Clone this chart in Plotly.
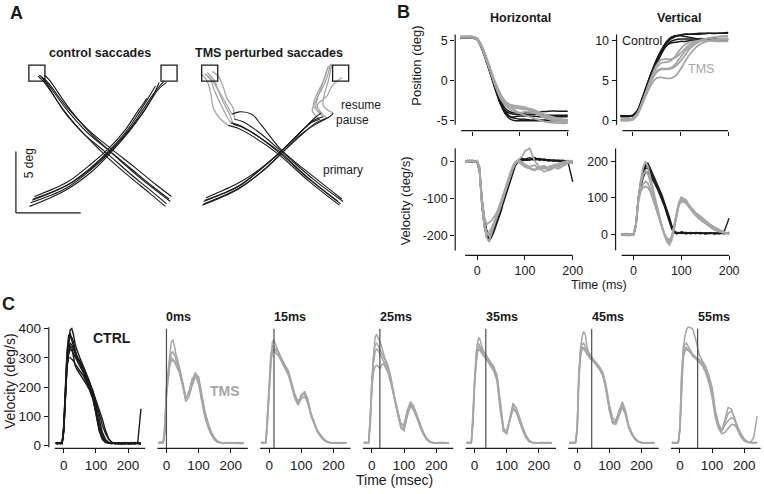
import plotly.graph_objects as go

W, H = 764, 494
INK = '#1a1a1a'
GREY = '#a6a6a6'
STIM_INK = '#4d4d4d'
FONT = 'Liberation Sans, Arial, Helvetica, sans-serif'

# ================= DATA =================
# ---- Panel A: 2-D eye trajectories (deg) ----
A_CTRL_RL_X = [[5.3, 4.0, 2.3, 0.5, -1.4, -3.0, -4.7, -5.2],
               [5.5, 4.2, 2.5, 0.6, -1.3, -3.0, -4.6, -5.0],
               [5.1, 3.8, 2.1, 0.3, -1.6, -3.2, -4.8, -5.3],
               [5.0, 3.7, 2.0, 0.2, -1.5, -3.1, -4.5, -4.9],
               [5.4, 4.1, 2.4, 0.6, -1.2, -2.8, -4.4, -4.8]]
A_CTRL_RL_Y = [[0.4, 1.4, 2.8, 4.3, 5.9, 7.7, 10.0, 10.5],
               [0.6, 1.6, 3.0, 4.5, 6.1, 7.9, 10.0, 10.3],
               [0.0, 1.1, 2.5, 4.1, 5.7, 7.6, 9.9, 10.4],
               [-0.2, 0.9, 2.3, 3.9, 5.6, 7.4, 9.6, 10.2],
               [0.2, 1.2, 2.6, 4.2, 5.9, 7.8, 10.1, 10.5]]
A_CTRL_LR_X = [[-5.8, -3.0, -1.1, 0.5, 1.9, 2.9, 3.6, 4.2],
               [-6.0, -3.1, -1.0, 0.6, 2.0, 3.1, 3.9, 4.5],
               [-5.6, -2.9, -1.2, 0.4, 1.8, 2.8, 3.3, 3.5],
               [-5.7, -2.8, -0.9, 0.7, 2.1, 3.2, 4.2, 4.9],
               [-5.9, -3.0, -1.0, 0.6, 2.0, 3.3, 4.4, 5.1]]
A_CTRL_LR_Y = [[0.3, 1.5, 2.9, 4.4, 6.0, 7.5, 8.6, 9.6],
               [-0.2, 1.1, 2.6, 4.2, 5.8, 7.3, 8.6, 9.9],
               [0.6, 1.8, 3.1, 4.5, 6.1, 7.6, 8.3, 8.6],
               [0.4, 1.6, 3.0, 4.5, 6.1, 7.7, 9.2, 10.0],
               [0.1, 1.3, 2.8, 4.3, 5.9, 7.6, 9.3, 9.9]]
# TMS: primary (black) and resumed (grey) parts
A_TMS_RL_PRIM_X = [[5.0, 2.6, 0.2, -1.8, -3.0, -3.7],
                   [5.2, 2.8, 0.3, -1.6, -2.9, -3.5],
                   [5.3, 2.9, 0.4, -1.2, -2.0, -3.0, -3.6],
                   [5.1, 2.7, 0.1, -1.9, -3.2, -3.9],
                   [5.4, 3.0, 0.5, -1.5, -2.7, -3.4]]
A_TMS_RL_PRIM_Y = [[0.2, 2.1, 4.3, 5.7, 6.4, 6.6],
                   [0.0, 1.9, 4.1, 5.6, 6.3, 6.5],
                   [0.4, 2.3, 4.4, 6.4, 7.3, 7.5, 7.3],
                   [-0.1, 1.8, 4.1, 5.5, 6.2, 6.4],
                   [0.2, 2.0, 4.2, 5.9, 6.7, 6.9]]
A_TMS_RL_RES_X = [[-3.7, -4.0, -4.5, -5.0, -5.4, -5.8],
                  [-3.5, -3.8, -4.3, -4.7, -5.0, -5.6],
                  [-3.6, -4.1, -4.9, -5.3, -5.8],
                  [-3.9, -4.6, -5.1, -5.3, -5.6, -6.1],
                  [-3.4, -3.5, -4.0, -4.3, -4.7, -5.2]]
A_TMS_RL_RES_Y = [[6.6, 7.1, 8.1, 9.2, 10.2, 10.6],
                  [6.5, 7.3, 8.3, 9.2, 10.0, 10.7],
                  [7.3, 8.2, 9.6, 10.2, 10.6],
                  [6.4, 7.0, 7.8, 8.9, 10.0, 10.6],
                  [6.9, 7.8, 8.6, 9.5, 10.4, 10.8]]
A_TMS_LR_PRIM_X = [[-5.9, -3.0, -1.2, 0.4, 1.8, 3.0, 3.8],
                   [-6.0, -3.1, -1.1, 0.5, 2.0, 3.2, 4.1],
                   [-5.7, -2.9, -1.0, 0.6, 2.0, 3.1, 3.6],
                   [-5.8, -3.1, -1.3, 0.3, 1.7, 2.8, 3.5],
                   [-5.9, -3.0, -1.1, 0.5, 1.9, 3.2, 4.3, 4.6]]
A_TMS_LR_PRIM_Y = [[0.2, 1.5, 2.9, 4.3, 5.7, 6.8, 7.1],
                   [-0.1, 1.2, 2.7, 4.2, 5.6, 6.6, 7.0],
                   [0.5, 1.8, 3.1, 4.5, 5.9, 7.0, 7.4],
                   [0.3, 1.4, 2.8, 4.2, 5.6, 6.6, 6.9],
                   [0.0, 1.3, 2.7, 4.2, 5.6, 6.5, 7.1, 7.4]]
A_TMS_LR_RES_X = [[3.8, 3.2, 3.4, 3.9, 4.3, 4.4],
                  [4.1, 3.3, 4.1, 4.5, 5.3],
                  [3.6, 3.0, 3.3, 3.8, 4.1, 4.3],
                  [3.5, 2.9, 3.2, 3.6, 4.0, 4.2],
                  [4.6, 3.8, 3.9, 4.2, 4.4, 4.5]]
A_TMS_LR_RES_Y = [[7.1, 7.8, 8.8, 9.8, 11.0, 11.4],
                  [7.0, 8.0, 8.8, 9.6, 10.3],
                  [7.4, 8.0, 9.0, 10.0, 10.9, 11.3],
                  [6.9, 7.6, 8.4, 9.4, 10.6, 11.2],
                  [7.4, 8.0, 9.0, 10.0, 11.0, 11.4]]
A_CTRL_TARGET_X = [-5.4, 5.3]
A_TMS_TARGET_X = [-5.4, 5.2]
A_TARGET_Y = [10.65, 10.65]

# ---- Panel B: position (deg) and velocity (deg/s) vs time (ms) ----
T_POS = [-25, -10, 0, 10, 20, 30, 40, 50, 60, 70, 80, 90, 100, 110, 120, 140, 160, 180, 200]
HPOS_CTRL = [
    [5.4, 5.4, 5.4, 5.2, 4.2, 2.6, 0.8, -1.1, -2.8, -3.9, -4.5, -4.7, -4.8, -4.8, -4.9, -4.9, -4.9, -4.9, -4.9],
    [5.4, 5.4, 5.4, 5.1, 4.0, 2.3, 0.5, -1.4, -3.0, -3.8, -4.1, -4.2, -4.2, -4.2, -4.2, -4.2, -4.3, -4.3, -4.3],
    [5.5, 5.5, 5.5, 5.3, 4.3, 2.7, 0.9, -0.9, -2.5, -3.5, -3.9, -4.0, -4.0, -4.0, -3.9, -3.9, -3.8, -3.8, -3.8],
    [5.4, 5.4, 5.4, 5.2, 4.1, 2.5, 0.6, -1.3, -3.0, -4.1, -4.5, -4.5, -4.4, -4.4, -4.4, -4.5, -4.5, -4.5, -4.5],
    [5.3, 5.3, 5.3, 5.1, 4.0, 2.4, 0.6, -1.2, -2.9, -4.2, -4.8, -5.0, -5.0, -5.0, -5.0, -5.0, -5.0, -5.0, -5.0]]
HPOS_TMS = [
    [5.4, 5.4, 5.4, 5.2, 4.3, 2.8, 1.1, -0.6, -1.9, -2.7, -3.1, -3.3, -3.4, -3.5, -3.7, -4.3, -4.8, -5.1, -5.2],
    [5.4, 5.4, 5.4, 5.2, 4.2, 2.6, 0.9, -0.8, -2.1, -2.9, -3.3, -3.4, -3.5, -3.6, -3.5, -3.9, -4.4, -4.7, -4.9],
    [5.5, 5.5, 5.5, 5.3, 4.4, 2.9, 1.2, -0.4, -1.7, -2.6, -3.0, -3.1, -3.2, -3.3, -3.5, -4.1, -4.6, -4.9, -5.0],
    [5.4, 5.4, 5.4, 5.2, 4.3, 2.7, 1.0, -0.7, -2.0, -2.8, -3.3, -3.7, -4.1, -4.3, -4.5, -4.9, -5.2, -5.3, -5.3],
    [5.4, 5.4, 5.4, 5.1, 4.1, 2.5, 0.8, -0.9, -2.3, -3.1, -3.6, -3.9, -4.0, -3.9, -3.9, -4.2, -4.6, -4.9, -5.1]]
VPOS_CTRL = [
    [0.6, 0.6, 0.6, 1.2, 2.6, 4.2, 5.8, 7.2, 8.5, 9.6, 10.3, 10.6, 10.7, 10.8, 10.8, 10.8, 10.9, 10.9, 10.9],
    [0.6, 0.6, 0.6, 1.1, 2.4, 4.0, 5.6, 7.0, 8.3, 9.3, 9.9, 10.1, 10.2, 10.2, 10.2, 10.2, 10.2, 10.2, 10.2],
    [0.5, 0.5, 0.6, 1.2, 2.7, 4.4, 6.1, 7.6, 8.8, 9.8, 10.4, 10.6, 10.6, 10.5, 10.4, 10.2, 10.1, 10.1, 10.1],
    [0.6, 0.6, 0.6, 1.1, 2.5, 4.1, 5.7, 7.2, 8.4, 9.3, 9.7, 9.8, 9.9, 9.9, 10.0, 10.0, 10.1, 10.1, 10.1],
    [0.6, 0.6, 0.7, 1.3, 2.8, 4.5, 6.1, 7.5, 8.7, 9.6, 10.2, 10.5, 10.7, 10.8, 10.8, 10.9, 10.9, 10.9, 11.0]]
VPOS_TMS = [
    [0.2, 0.2, 0.3, 0.9, 2.3, 3.9, 5.5, 6.9, 7.6, 7.7, 7.7, 7.9, 8.4, 9.0, 9.5, 10.0, 10.3, 10.5, 10.6],
    [0.1, 0.1, 0.2, 0.8, 2.1, 3.6, 5.0, 6.0, 6.4, 6.4, 6.5, 6.8, 7.4, 8.2, 9.0, 9.9, 10.3, 10.5, 10.6],
    [0.0, 0.0, 0.1, 0.7, 2.0, 3.4, 4.6, 5.3, 5.4, 5.3, 5.3, 5.6, 6.4, 7.4, 8.3, 9.5, 10.0, 10.2, 10.3],
    [0.2, 0.2, 0.3, 0.9, 2.2, 3.7, 5.2, 6.2, 6.5, 6.5, 6.6, 7.1, 7.9, 8.7, 9.3, 9.9, 10.0, 10.1, 10.1],
    [0.1, 0.1, 0.2, 0.8, 2.2, 3.8, 5.4, 6.6, 7.2, 7.3, 7.5, 8.1, 8.9, 9.5, 9.8, 10.0, 10.0, 9.9, 9.9]]

T_VEL = [-25, -20, -15, -10, -5, 0, 5, 10, 15, 20, 25, 30, 35, 40, 45, 50, 55, 60, 65, 70,
         75, 80, 85, 90, 95, 100, 110, 120, 130, 140, 150, 160, 170, 180, 190, 200]
HVEL_CTRL = [
    [0, 3, -2, 2, -1, 0, -20, -120, -175, -205, -215, -205, -190, -172, -155, -135, -112, -92, -70, -48,
     -28, -12, -3, 2, 5, 3, 4, 8, 3, 6, 2, 4, 1, 3, -2, -55],
    [2, -1, 3, 0, 2, -3, -30, -110, -160, -195, -210, -200, -185, -165, -150, -128, -105, -85, -62, -40,
     -22, -8, 0, 4, 2, 6, 10, 5, 8, 2, 5, 0, 3, 1, -5, -2],
    [-2, 1, 0, -3, 1, 2, -15, -95, -150, -185, -200, -195, -180, -160, -140, -120, -100, -80, -60, -38,
     -20, -6, 3, 6, 8, 5, 3, 10, 4, 6, 3, 2, 0, -2, 2, -5],
    [1, -2, 2, 1, -2, 0, -25, -115, -170, -200, -212, -200, -183, -168, -148, -125, -102, -82, -58, -36,
     -18, -5, 2, 5, 4, 2, 6, 3, 7, 4, 1, 3, 2, 0, 1, -3]]
HVEL_TMS = [
    [2, -1, 1, 0, -2, 1, -20, -110, -165, -190, -200, -185, -170, -155, -138, -118, -96, -75, -55, -35,
     -18, -5, 2, 8, 15, 28, 35, 2, -15, -12, -20, -10, -15, -5, 0, 2],
    [-1, 2, 0, 3, 0, -2, -25, -120, -170, -200, -190, -180, -165, -148, -130, -110, -90, -70, -50, -30,
     -14, -3, 0, -5, -10, -15, -20, -25, -18, -28, -22, -15, -20, -12, -5, 0],
    [0, -2, 2, -1, 1, 0, -15, -100, -150, -170, -165, -160, -150, -140, -125, -108, -88, -68, -47, -28,
     -12, -2, 3, 2, -4, -8, -15, -10, -22, -15, -25, -18, -10, -8, -3, -1],
    [1, 0, -1, 2, -1, 1, -22, -115, -175, -205, -215, -195, -175, -158, -140, -120, -98, -78, -56, -36,
     -18, -6, 0, -3, -8, -12, -18, -22, -15, -20, -14, -10, -6, -3, 2, 0]]
VVEL_CTRL = [
    [0, 3, -2, 2, -1, 0, 30, 100, 145, 175, 192, 195, 182, 168, 152, 137, 122, 106, 88, 70,
     48, 25, 10, 5, 3, 8, 5, 2, 6, 4, 3, 5, 2, 3, 10, 45],
    [2, -1, 1, -3, 2, 1, 25, 95, 135, 165, 182, 180, 168, 155, 142, 128, 112, 96, 80, 60,
     40, 20, 8, 3, 6, 4, 2, 5, 3, 6, 2, 3, 5, 2, 4, 6],
    [-2, 2, 0, 1, -2, 2, 28, 100, 140, 170, 188, 186, 175, 160, 145, 130, 115, 98, 82, 63,
     42, 22, 9, 6, 4, 5, 3, 6, 4, 2, 5, 3, 2, 4, 3, 5],
    [1, -2, 3, 0, 1, -1, 22, 90, 128, 155, 170, 170, 160, 150, 138, 125, 110, 94, 76, 55,
     35, 15, 6, 2, 5, 3, 6, 4, 3, 5, 2, 4, 3, 5, 2, 6]]
VVEL_TMS = [
    [0, 2, -2, 1, -1, 2, 30, 100, 148, 182, 200, 185, 160, 130, 100, 72, 45, 20, 0, -15,
     -22, -10, 20, 55, 85, 100, 90, 70, 55, 45, 35, 25, 15, 10, 5, 3],
    [2, -1, 1, -2, 2, 0, 25, 92, 122, 138, 145, 140, 125, 105, 85, 62, 40, 18, 0, -12,
     -18, -5, 25, 60, 85, 95, 85, 68, 52, 40, 30, 22, 12, 8, 4, 2],
    [-1, 1, -2, 2, 0, 1, 22, 88, 118, 128, 132, 128, 118, 100, 82, 60, 38, 16, -2, -20,
     -28, -15, 15, 50, 80, 90, 88, 75, 60, 50, 38, 28, 20, 12, 6, 4],
    [1, 0, 2, -1, 1, -2, 28, 98, 138, 162, 175, 165, 145, 118, 92, 66, 42, 20, 2, -10,
     -15, -5, 22, 58, 88, 102, 95, 72, 58, 42, 32, 22, 14, 8, 4, 1]]

# ---- Panel C: velocity (deg/s) vs time (msec), control and TMS at several delays ----
T_C = [-25, -20, -10, -5, 0, 5, 10, 15, 20, 25, 30, 35, 40, 50, 60, 70, 80, 90, 100, 110,
       120, 130, 140, 150, 160, 170, 180, 190, 200, 210, 220, 230, 240]
C_CTRL = [
    [8, 10, 5, 12, 60, 210, 310, 360, 395, 400, 380, 350, 330, 300, 275, 245, 220, 180, 120, 60,
     25, 12, 8, 10, 6, 8, 5, 9, 6, 8, 5, 10, 8],
    [5, 8, 10, 6, 50, 190, 280, 330, 350, 345, 330, 310, 300, 280, 260, 240, 215, 190, 150, 105,
     70, 40, 20, 10, 8, 6, 9, 5, 8, 6, 10, 7, 6],
    [10, 6, 8, 10, 55, 180, 265, 310, 330, 325, 315, 300, 290, 270, 250, 225, 200, 175, 140, 90,
     45, 20, 10, 8, 6, 9, 7, 6, 8, 10, 6, 8, 9],
    [6, 9, 7, 8, 45, 170, 270, 320, 340, 335, 300, 275, 262, 245, 230, 210, 190, 160, 110, 55,
     25, 12, 8, 6, 9, 5, 7, 10, 6, 8, 9, 6, 5],
    [8, 5, 9, 7, 65, 205, 300, 345, 375, 370, 355, 330, 310, 285, 255, 230, 205, 185, 155, 125,
     90, 50, 22, 10, 7, 8, 6, 9, 6, 5, 8, 10, 125],
    [7, 10, 6, 9, 50, 185, 275, 300, 300, 295, 290, 280, 270, 255, 240, 220, 195, 165, 125, 75,
     35, 15, 9, 7, 8, 6, 9, 7, 5, 9, 6, 8, 7],
    [9, 7, 10, 6, 70, 220, 320, 375, 385, 360, 340, 320, 305, 290, 268, 240, 210, 170, 110, 50,
     20, 10, 8, 9, 6, 8, 5, 7, 9, 6, 8, 7, 6]]
STIM_DELAYS = [0, 15, 25, 35, 45, 55]
STIM_LABELS = ['0ms', '15ms', '25ms', '35ms', '45ms', '55ms']
C_TMS = {
    0: [[10, 8, 12, 60, 200, 260, 320, 355, 360, 340, 310, 290, 270, 220, 165, 175, 215, 245, 235, 175,
         115, 75, 45, 25, 14, 10, 8, 9, 7, 10, 8, 6, 9],
        [8, 12, 9, 50, 170, 230, 270, 290, 290, 285, 275, 265, 250, 205, 150, 165, 205, 235, 230, 165,
         110, 70, 42, 22, 12, 8, 9, 7, 10, 8, 9, 7, 8],
        [12, 9, 10, 70, 190, 240, 290, 315, 320, 310, 295, 280, 262, 215, 160, 182, 225, 250, 225, 155,
         100, 65, 38, 20, 11, 9, 8, 10, 8, 9, 7, 8, 10],
        [9, 10, 8, 40, 180, 235, 280, 300, 295, 290, 280, 270, 255, 210, 158, 185, 228, 240, 210, 150,
         95, 60, 35, 18, 10, 10, 7, 8, 9, 7, 10, 9, 8]],
    15: [[10, 8, 12, 100, 220, 300, 355, 360, 345, 330, 320, 305, 295, 275, 255, 215, 175, 150, 170, 185,
          160, 110, 78, 52, 36, 22, 14, 10, 9, 7, 10, 8, 9],
         [8, 10, 12, 80, 200, 280, 320, 330, 325, 320, 310, 300, 290, 268, 248, 208, 168, 145, 175, 178,
          150, 105, 74, 50, 33, 20, 12, 10, 8, 9, 7, 9, 8],
         [9, 11, 8, 90, 210, 290, 330, 325, 315, 312, 305, 295, 285, 262, 240, 200, 160, 138, 160, 168,
          145, 100, 70, 46, 30, 18, 11, 9, 10, 8, 9, 10, 7],
         [11, 9, 10, 110, 230, 310, 340, 340, 330, 325, 318, 305, 292, 270, 250, 210, 170, 148, 168, 180,
          155, 108, 76, 50, 34, 21, 13, 9, 8, 10, 8, 7, 9]],
    25: [[10, 8, 12, 90, 230, 320, 370, 380, 370, 355, 340, 320, 300, 275, 230, 170, 120, 75, 65, 115,
          145, 130, 100, 70, 45, 25, 14, 10, 9, 8, 9, 7, 10],
         [9, 11, 8, 70, 200, 280, 320, 330, 325, 315, 300, 290, 280, 255, 215, 160, 105, 60, 50, 100,
          135, 120, 95, 65, 40, 22, 12, 10, 8, 9, 10, 8, 9],
         [12, 9, 10, 80, 190, 250, 270, 275, 270, 262, 275, 280, 272, 250, 210, 160, 115, 75, 70, 120,
          150, 135, 105, 72, 45, 24, 13, 9, 8, 10, 9, 8, 7],
         [8, 10, 9, 100, 215, 300, 345, 350, 340, 330, 320, 310, 295, 265, 220, 165, 110, 65, 55, 105,
          140, 125, 95, 62, 38, 20, 11, 8, 9, 7, 10, 9, 8]],
    35: [[10, 9, 11, 90, 220, 310, 360, 370, 350, 330, 320, 310, 300, 285, 270, 240, 150, 55, 45, 100,
          145, 125, 90, 60, 32, 16, 10, 8, 9, 10, 8, 9, 7],
         [8, 10, 9, 80, 210, 290, 330, 340, 335, 320, 310, 300, 290, 275, 260, 225, 130, 50, 50, 95,
          130, 115, 82, 52, 28, 14, 9, 10, 8, 9, 7, 10, 8],
         [11, 8, 10, 100, 230, 320, 350, 345, 325, 310, 305, 300, 295, 280, 265, 235, 140, 60, 42, 90,
          140, 128, 92, 62, 34, 17, 10, 9, 8, 10, 9, 8, 9],
         [9, 11, 8, 70, 200, 280, 320, 330, 320, 315, 305, 298, 290, 272, 255, 220, 120, 48, 40, 85,
          125, 112, 80, 50, 26, 13, 10, 8, 9, 7, 9, 10, 8]],
    45: [[10, 9, 8, 10, 60, 240, 330, 370, 390, 380, 340, 320, 310, 295, 280, 265, 245, 200, 140, 95,
          85, 120, 145, 115, 65, 40, 22, 14, 10, 9, 8, 10, 9],
         [8, 10, 11, 12, 50, 220, 300, 330, 335, 330, 320, 310, 300, 290, 278, 262, 240, 190, 125, 85,
          80, 115, 135, 105, 60, 36, 20, 12, 9, 10, 8, 9, 8],
         [11, 9, 10, 9, 70, 250, 320, 345, 350, 340, 330, 315, 305, 292, 282, 268, 250, 205, 130, 80,
          78, 110, 150, 120, 68, 42, 24, 15, 10, 8, 9, 8, 10],
         [9, 8, 9, 11, 55, 230, 310, 335, 330, 322, 318, 308, 298, 288, 275, 258, 238, 185, 118, 75,
          72, 105, 130, 110, 62, 38, 21, 13, 9, 9, 10, 8, 9]],
    55: [[10, 9, 8, 10, 60, 230, 330, 370, 395, 405, 405, 402, 398, 360, 310, 290, 270, 240, 200, 120,
          75, 50, 95, 130, 125, 85, 50, 28, 15, 10, 9, 8, 10],
         [8, 10, 9, 12, 50, 210, 300, 320, 330, 325, 320, 315, 305, 300, 295, 285, 265, 235, 190, 115,
          70, 48, 80, 110, 118, 95, 60, 35, 18, 12, 9, 10, 8],
         [11, 9, 10, 9, 70, 240, 320, 345, 350, 340, 330, 320, 312, 302, 290, 280, 258, 225, 175, 105,
          62, 52, 70, 85, 95, 88, 62, 38, 20, 12, 10, 9, 11],
         [9, 8, 9, 11, 55, 220, 310, 330, 335, 330, 325, 318, 308, 296, 285, 272, 250, 215, 165, 95,
          58, 40, 45, 60, 72, 70, 55, 38, 22, 14, 10, 30, 100]]}

# ================= FIGURE =================
fig = go.Figure()


def xr_(i):
    return 'x' if i == 1 else f'x{i}'


def yr_(i):
    return 'y' if i == 1 else f'y{i}'


def cal(pa, va, pb, vb):
    k = (vb - va) / (pb - pa)
    return lambda p: va + (p - pa) * k


def pxx(p):
    return p / W


def pxy(p):
    return 1 - p / H


layout_axes = {}


def setup(i, xpx, ypx, fx, fy, xt=None, yt=None, xlab=True, tsize=12.5, standoff=0):
    xa = dict(domain=[pxx(xpx[0]), pxx(xpx[1])], range=[fx(xpx[0]), fx(xpx[1])],
              anchor=yr_(i), showgrid=False, zeroline=False, showline=False, fixedrange=True)
    ya = dict(domain=[pxy(ypx[1]), pxy(ypx[0])], range=[fy(ypx[1]), fy(ypx[0])],
              anchor=xr_(i), showgrid=False, zeroline=False, showline=False, fixedrange=True)
    tick = dict(ticks='outside', ticklen=4, tickwidth=1.1, tickcolor=INK,
                tickfont=dict(family=FONT, size=tsize, color=INK), tickmode='array')
    if xt is None:
        xa.update(visible=False)
    else:
        xa.update(tick, tickvals=xt, ticktext=[str(v) for v in xt], showticklabels=xlab,
                  ticklabelstandoff=standoff)
    if yt is None:
        ya.update(visible=False)
    else:
        ya.update(tick, tickvals=yt, ticktext=[str(v) for v in yt])
    layout_axes['xaxis' if i == 1 else f'xaxis{i}'] = xa
    layout_axes['yaxis' if i == 1 else f'yaxis{i}'] = ya


def lines(i, xs, ys, color, width, shape='linear'):
    fig.add_trace(go.Scatter(x=xs, y=ys, xaxis=xr_(i), yaxis=yr_(i), mode='lines',
                             line=dict(color=color, width=width, shape=shape),
                             hoverinfo='skip', showlegend=False))


shapes = []


def hline_axis(i, x0, x1):
    shapes.append(dict(type='line', xref=xr_(i), yref=yr_(i) + ' domain', x0=x0, x1=x1, y0=0, y1=0,
                       line=dict(color=INK, width=1.2)))


def vline_axis(i, y0, y1):
    shapes.append(dict(type='line', xref=xr_(i) + ' domain', yref=yr_(i), x0=0, x1=0, y0=y0, y1=y1,
                       line=dict(color=INK, width=1.2)))


# ---- Panel A ----
fa_y = lambda p: (206 - p) / 12.4
setup(1, (0, 190), (40, 235), lambda p: (p - 104) / 12.4, fa_y)
setup(2, (190, 385), (40, 235), lambda p: (p - 277.5) / 12.4, fa_y)
for xs, ys in zip(A_CTRL_RL_X + A_CTRL_LR_X, A_CTRL_RL_Y + A_CTRL_LR_Y):
    lines(1, xs, ys, INK, 1.1, 'spline')
for xs, ys in zip(A_TMS_RL_RES_X + A_TMS_LR_RES_X, A_TMS_RL_RES_Y + A_TMS_LR_RES_Y):
    lines(2, xs, ys, GREY, 1.3, 'spline')
for xs, ys in zip(A_TMS_RL_PRIM_X + A_TMS_LR_PRIM_X, A_TMS_RL_PRIM_Y + A_TMS_LR_PRIM_Y):
    lines(2, xs, ys, INK, 1.1, 'spline')
half = 0.65
for i, tx in ((1, A_CTRL_TARGET_X), (2, A_TMS_TARGET_X)):
    for cx, cy in zip(tx, A_TARGET_Y):
        shapes.append(dict(type='rect', xref=xr_(i), yref=yr_(i), x0=cx - half, x1=cx + half,
                           y0=cy - half, y1=cy + half, line=dict(color=INK, width=1.3)))
# scale bar (5 deg)
shapes.append(dict(type='line', xref='x', yref='y', x0=-7.1, x1=-7.1, y0=-0.73, y1=4.27,
                   line=dict(color=INK, width=1.2)))
shapes.append(dict(type='line', xref='x', yref='y', x0=-7.1, x1=-1.85, y0=-0.73, y1=-0.73,
                   line=dict(color=INK, width=1.2)))

# ---- Panel B ----
setup(3, (457, 582), (28, 132), cal(474, 0, 570, 200), cal(122, -5, 41, 5), xt=[0, 100, 200],
      yt=[-5, 0, 5], xlab=False)
setup(4, (619, 742), (28, 132), cal(635, 0, 731, 200), cal(122, 0, 41, 10), xt=[0, 100, 200],
      yt=[0, 5, 10], xlab=False)
setup(5, (457, 582), (146, 258), cal(479, 0, 575, 200), cal(163, 0, 238, -200), xt=[0, 100, 200],
      yt=[-200, -100, 0], standoff=0)
setup(6, (618, 742), (146, 258), cal(636, 0, 732, 200), cal(237, 0, 163, 200), xt=[0, 100, 200],
      yt=[0, 100, 200], standoff=0)
for ys in HPOS_CTRL:
    lines(3, T_POS, ys, INK, 1.5, 'spline')
for ys in HPOS_TMS:
    lines(3, T_POS, ys, GREY, 1.8, 'spline')
for ys in VPOS_CTRL:
    lines(4, T_POS, ys, INK, 1.5, 'spline')
for ys in VPOS_TMS:
    lines(4, T_POS, ys, GREY, 1.8, 'spline')
for ys in HVEL_CTRL:
    lines(5, T_VEL, ys, INK, 1.4)
for ys in HVEL_TMS:
    lines(5, T_VEL, ys, GREY, 1.8)
for ys in VVEL_CTRL:
    lines(6, T_VEL, ys, INK, 1.4)
for ys in VVEL_TMS:
    lines(6, T_VEL, ys, GREY, 1.8)
vline_axis(3, -5.5, 5.75); hline_axis(3, -23, 202)
vline_axis(4, -0.5, 10.75); hline_axis(4, -21, 200)
vline_axis(5, -240, 35); hline_axis(5, -25, 200)
vline_axis(6, -43, 235); hline_axis(6, -25, 200)

# ---- Panel C ----
fyC = cal(450, 0, 332, 400)
for k in range(7):
    i = 7 + k
    x0 = 64 + 103.1 * k
    fx = cal(x0, 0, x0 + 64.6, 200)
    left = 49 if k == 0 else x0 - 14
    right = min(x0 + 87, W - 0.5)
    setup(i, (left, right), (318, 453), fx, fyC, xt=[0, 100, 200],
          yt=[0, 100, 200, 300, 400] if k == 0 else None, tsize=13.5, standoff=0)
    hline_axis(i, -28, 253)
    if k == 0:
        vline_axis(i, -6, 405)
        for ys in C_CTRL:
            lines(i, T_C, ys, INK, 1.4)
    else:
        d = STIM_DELAYS[k - 1]
        for ys in C_TMS[d]:
            lines(i, T_C, ys, GREY, 1.5)
        shapes.append(dict(type='line', xref=xr_(i), yref=yr_(i), x0=d, x1=d, y0=-10, y1=400,
                           line=dict(color=STIM_INK, width=1.2)))
        fig.add_annotation(text=f'<b>{STIM_LABELS[k - 1]}</b>', xref=xr_(i), yref='paper', x=d,
                           y=pxy(320), xanchor='left', yanchor='middle', xshift=-2, showarrow=False,
                           font=dict(family=FONT, size=12.5, color=INK))


# ---- text ----
def txt(s, px, py, size=12.5, bold=False, color=INK, angle=0, xanchor='center'):
    fig.add_annotation(text=f'<b>{s}</b>' if bold else s, x=pxx(px), y=pxy(py), xref='paper',
                       yref='paper', showarrow=False, textangle=angle, xanchor=xanchor, yanchor='middle',
                       font=dict(family=FONT, size=size, color=color))


txt('A', 17, 13, 18, True)
txt('B', 405, 12, 18, True)
txt('C', 9, 307, 18, True)
txt('control saccades', 100, 54, 12.5, True)
txt('TMS perturbed saccades', 270, 54, 12.5, True)
txt('resume', 340, 106, 12, xanchor='left')
txt('pause', 335, 121, 12, xanchor='left')
txt('primary', 322, 172, 12, xanchor='left')
txt('5 deg', 29, 165, 12, angle=-90)
txt('Horizontal', 523, 18, 12.5, True)
txt('Vertical', 682, 18, 12.5, True)
txt('Position (deg)', 418, 66, 13, angle=-90)
txt('Velocity (deg/s)', 408, 203, 13, angle=-90)
txt('Control', 645, 41, 12.5)
txt('TMS', 704, 70, 12.5, color=GREY)
txt('Time (ms)', 601, 288, 12.5)
txt('CTRL', 112, 341, 14, True)
txt('TMS', 226, 395, 14, True, color=GREY)
txt('Velocity (deg/s)', 10, 385, 14, angle=-90)
txt('Time (msec)', 396, 485, 14)

fig.update_layout(width=W, height=H, margin=dict(l=0, r=0, t=0, b=0), paper_bgcolor='white',
                  plot_bgcolor='white', showlegend=False, shapes=shapes, **layout_axes)
# remove the page's default body margin so the figure sits at the window's top-left corner
fig.write_html('out.html', config={'displayModeBar': False},
               post_script="document.body.style.margin='0';")
